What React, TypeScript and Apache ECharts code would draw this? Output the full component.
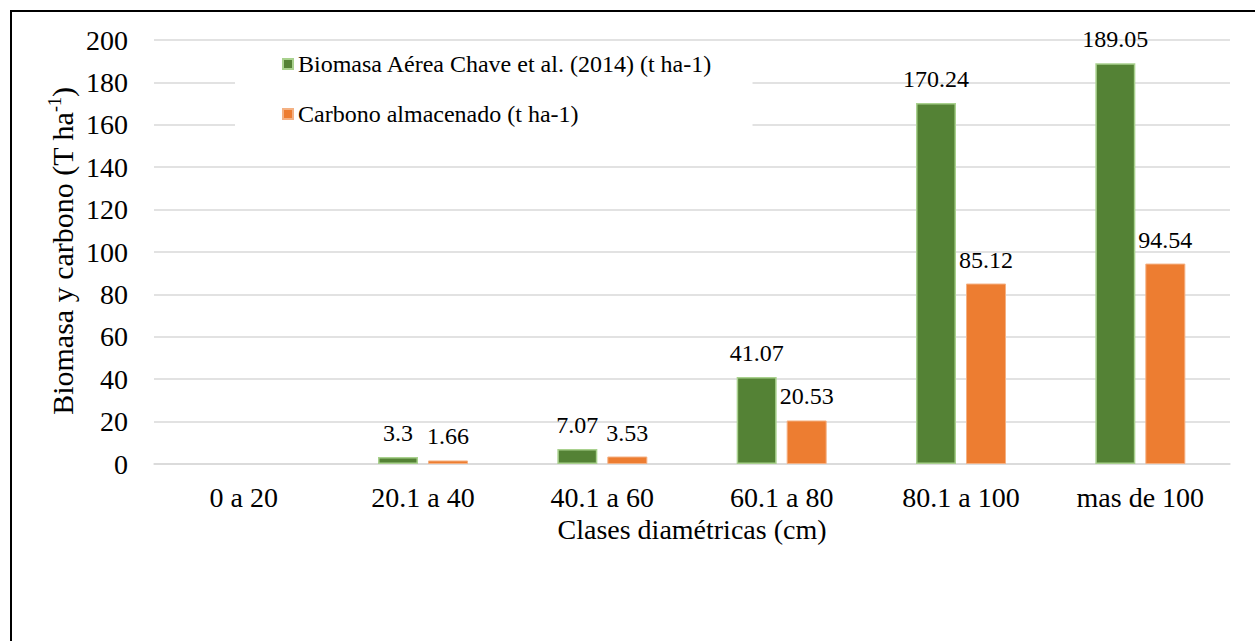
import React, { useEffect, useRef } from "react";
import * as echarts from "echarts";

const categories = ["0 a 20", "20.1 a 40", "40.1 a 60", "60.1 a 80", "80.1 a 100", "mas de 100"];
const biomasa = [null, 3.3, 7.07, 41.07, 170.24, 189.05];
const carbono = [null, 1.66, 3.53, 20.53, 85.12, 94.54];
const seriesNames = ["Biomasa Aérea Chave et al. (2014) (t ha-1)", "Carbono almacenado (t ha-1)"];
const xTitle = "Clases diamétricas (cm)";

const FONT = "'Liberation Serif', 'Times New Roman', Times, serif";

export default function App() {
  const ref = useRef<HTMLDivElement>(null);
  useEffect(() => {
    if (!ref.current) return;
    const chart = echarts.init(ref.current, undefined, { renderer: "svg" });
    const labelStyle = {
      show: true,
      position: "top" as const,
      distance: 12,
      color: "#000",
      fontFamily: FONT,
      fontSize: 24,
    };
    chart.setOption({
      animation: false,
      backgroundColor: "#fff",
      grid: { left: 154, right: 25, top: 40, bottom: 177, containLabel: false },
      legend: {
        orient: "vertical",
        left: 235,
        top: 45,
        padding: [7, 40, 4, 47],
        backgroundColor: "#fff",
        itemWidth: 10,
        itemHeight: 10,
        itemGap: 26,
        icon: "rect",
        textStyle: { fontFamily: FONT, fontSize: 24, color: "#000" },
        data: seriesNames,
        z: 10,
      },
      xAxis: {
        type: "category",
        data: categories,
        axisLine: { show: true, lineStyle: { color: "#d9d9d9", width: 1.5 } },
        axisTick: { show: false },
        axisLabel: { fontFamily: FONT, fontSize: 28, color: "#000", margin: 19 },
        name: xTitle,
        nameLocation: "middle",
        nameGap: 47,
        nameTextStyle: { fontFamily: FONT, fontSize: 28, color: "#000" },
      },
      yAxis: {
        type: "value",
        min: 0,
        max: 200,
        interval: 20,
        axisLine: { show: false },
        axisTick: { show: false },
        splitLine: { lineStyle: { color: "#d9d9d9", width: 1.5 } },
        axisLabel: { fontFamily: FONT, fontSize: 28, color: "#000", margin: 26 },
      },
      series: [
        {
          name: seriesNames[0],
          type: "bar",
          data: biomasa,
          barWidth: 40,
          barGap: "25%",
          itemStyle: { color: "#548235", borderColor: "#a9d18e", borderWidth: 1.5 },
          label: labelStyle,
        },
        {
          name: seriesNames[1],
          type: "bar",
          data: carbono,
          barWidth: 40,
          barGap: "25%",
          itemStyle: { color: "#ed7d31", borderColor: "#f4b183", borderWidth: 1 },
          label: labelStyle,
        },
      ],
      graphic: [
        {
          type: "rect",
          shape: { x: 11, y: 11, width: 1300, height: 700 },
          style: { fill: "none", stroke: "#000", lineWidth: 2 },
          silent: true,
        },
        {
          type: "text",
          x: 62,
          y: 251,
          rotation: Math.PI / 2,
          style: {
            text: "{n|Biomasa y carbono (T ha}{s|-1}{n|)}",
            align: "center",
            verticalAlign: "middle",
            fill: "#000",
            rich: {
              n: { fontFamily: FONT, fontSize: 30, lineHeight: 32, fill: "#000", color: "#000" },
              s: { fontFamily: FONT, fontSize: 18, lineHeight: 32, verticalAlign: "top", fill: "#000", color: "#000" },
            },
          },
        },
      ],
    });
    return () => chart.dispose();
  }, []);
  return (
    <div
      ref={ref}
      style={{ position: "absolute", left: 0, top: 0, width: 1255, height: 641 }}
    />
  );
}
